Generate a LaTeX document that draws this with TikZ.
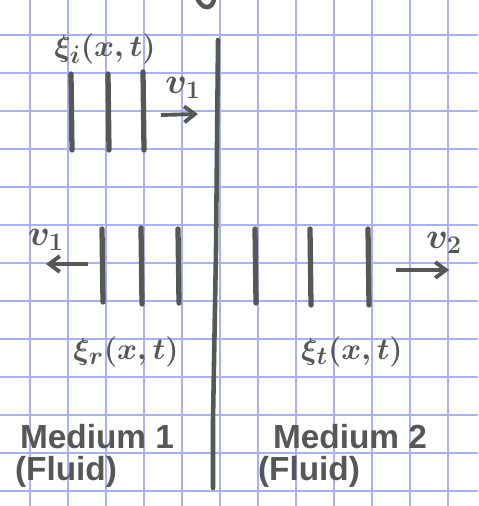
\documentclass[tikz,border=0pt]{standalone}
\usepackage{fontspec}
\setmainfont{Liberation Sans}
\usetikzlibrary{arrows.meta}
\definecolor{ink}{HTML}{555855}
\definecolor{grid}{HTML}{AAB0F6}
\definecolor{paper}{HTML}{FFFFFF}

\begin{document}
\begin{tikzpicture}[x=0.02cm,y=-0.02cm,font=\huge\bfseries\boldmath,
    front/.style={ink,line width=3pt,line cap=round},
    wall/.style={ink,line width=2.6pt,line cap=round},
    vel/.style={ink,line width=2.2pt,-{Straight Barb[length=6pt,width=9pt]}},
    lbl/.style={text=ink,inner sep=0pt},
    wave/.style={lbl,font=\fontsize{19}{22}\selectfont\boldmath},
    medium/.style={lbl,font=\fontsize{19}{22}\selectfont\bfseries}]
  \fill[paper] (0,0) rectangle (478,506);
  \useasboundingbox (0,0) rectangle (478,506);
  % squared paper
  \foreach \gx in {30,68,106,144,182,220,258,296,334,372,410,448}
     \draw[grid,line width=0.7pt] (\gx,0) -- (\gx,506);
  \foreach \gy in {35,73,111,149,187,225,263,301,339,377,415,453,491}
     \draw[grid,line width=0.7pt] (0,\gy) -- (478,\gy);
  % interface between the two media
  \draw[wall] (218,40) -- (216,250) -- (213,420) -- (213,488);
  \draw[wall] (198,0) .. controls (203,9) and (211,10) .. (214,0);
  % wave fronts: x / top / bottom
  \foreach \fx/\ft/\fb in {
     71/74/150, 108/74/150, 143/72/150,
     102/229/302, 141/228/304, 178/229/303,
     255/229/303, 310/229/305, 368/229/305}{
       \draw[front] (\fx,\ft) -- (\fx+1,\fb);
  }
  % incident
  \node[wave] (xii) at (105,49) {$\xi_i(x,t)$};
  \coordinate (vit) at (161,115);
  \coordinate (vih) at (198,114);
  \draw[vel] (vit) -- (vih);
  \node[lbl] (vi) at (183,88) {$v_1$};
  % reflected
  \coordinate (vrt) at (88,264);
  \coordinate (vrh) at (46,264);
  \draw[vel] (vrt) -- (vrh);
  \node[lbl] (vr) at (46,240) {$v_1$};
  \node[wave] (xir) at (126,352) {$\xi_r(x,t)$};
  % transmitted
  \coordinate (vtt) at (396,270);
  \coordinate (vth) at (449,270);
  \draw[vel] (vtt) -- (vth);
  \node[lbl] (vt) at (444,243) {$v_2$};
  \node[wave] (xit) at (352,352) {$\xi_t(x,t)$};
  % media
  \node[medium] (med1) at (97,437) {Medium 1};
  \node[medium] (fl1) at (66,472) {(Fluid)};
  \node[medium] (med2) at (350,437) {Medium 2};
  \node[medium] (fl2) at (309,472) {(Fluid)};
\end{tikzpicture}
\end{document}
